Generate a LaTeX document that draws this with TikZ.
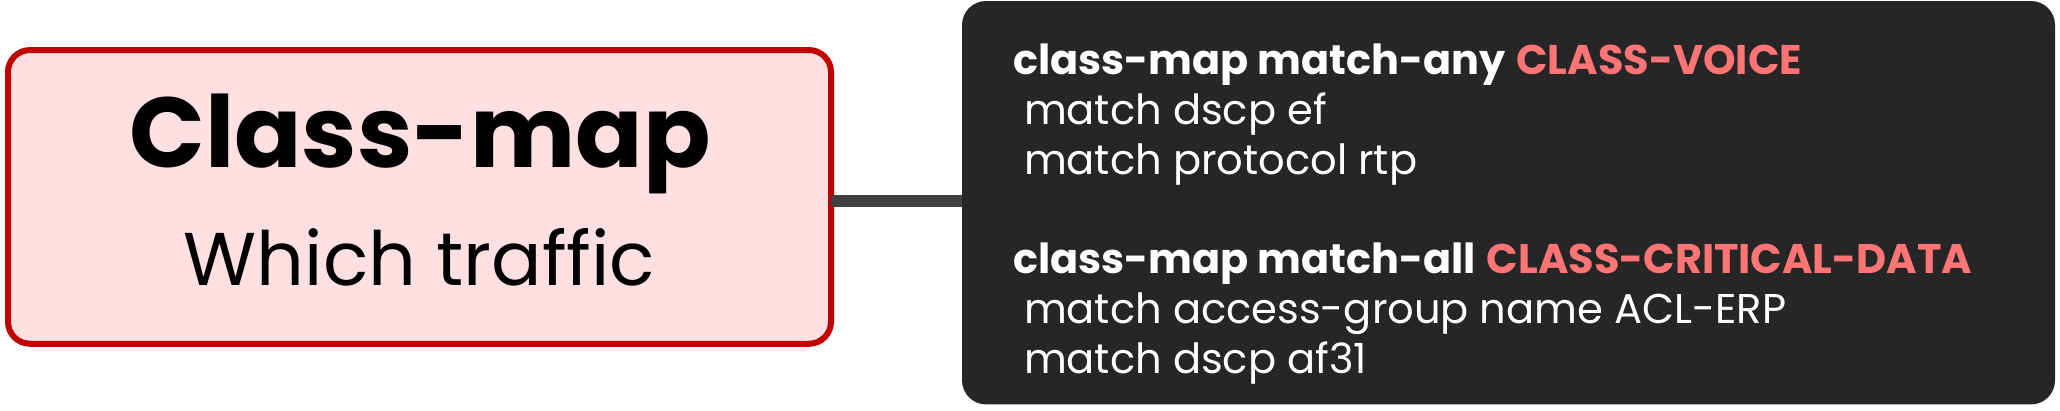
\documentclass[tikz,border=0pt]{standalone}
\usepackage{fontspec}
\setmainfont{Poppins}
\definecolor{redb}{HTML}{C00000}
\definecolor{redf}{HTML}{FFE0E2}
\definecolor{darkf}{HTML}{262626}
\definecolor{conn}{HTML}{404040}
\definecolor{salmon}{HTML}{FF7575}
\tikzset{
  every node/.style={inner sep=0pt,outer sep=0pt},
  box/.style={draw=redb,line width=6pt,fill=redf,rounded corners=22pt,minimum width=823pt,minimum height=293.7pt},
  codebox/.style={fill=darkf,rounded corners=24pt,minimum width=1093pt,minimum height=403.4pt},
  link/.style={draw=conn,line width=12.6pt},
  code/.style={anchor=base west,text=white,font=\fontsize{41.4pt}{50pt}\selectfont},
  plain/.style={anchor=base west,text=white,font=\fontsize{41.6pt}{50pt}\selectfont},
}
\newcommand{\kw}[1]{\textcolor{salmon}{\textbf{#1}}}
\begin{document}
\begin{tikzpicture}[x=1pt,y=-1pt]
\useasboundingbox (0,0) rectangle (2060,410);
\node[box] (cm) at (419.5,196.9) {};
\node[codebox] (cd) at (1508.5,202.7) {};
\coordinate (la) at (cm.east |- 0,201);
\coordinate (lb) at (cd.west |- 0,201);
\draw[link] (la) -- (lb);
\node[anchor=base,font=\bfseries\fontsize{99.4pt}{105pt}\selectfont] (t1) at (420,167.3) {Class-map};
\node[anchor=base,font=\fontsize{74.8pt}{80pt}\selectfont] (t2) at (419.5,285.7) {Which traffic};
\node[code] (l1) at (1013,74.3) {\textbf{class-map match-any} \kw{CLASS-VOICE}};
\node[plain] (l2) at (1024,124.2) {match dscp ef};
\node[plain] (l3) at (1024,174) {match protocol rtp};
\node[code] (l4) at (1013,273.4) {\textbf{class-map match-all} \kw{CLASS-CRITICAL-DATA}};
\node[plain] (l5) at (1024,323.2) {match access-group name ACL-ERP};
\node[plain] (l6) at (1024,373) {match dscp af31};
\end{tikzpicture}
\end{document}
